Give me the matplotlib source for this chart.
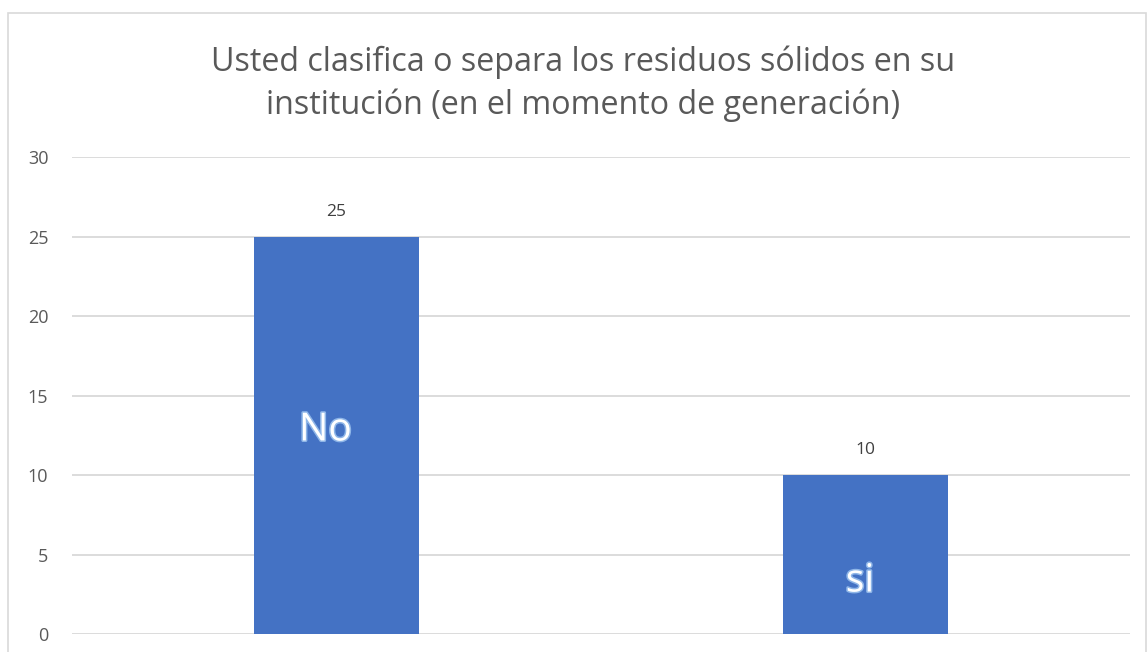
import matplotlib.pyplot as plt
import matplotlib.patheffects as pe
from matplotlib.patches import Rectangle

# data
categories = ["No", "si"]
values = [25, 10]
title_lines = ["Usted clasifica o separa los residuos sólidos en su",
               "institución (en el momento de generación)"]

plt.rcParams['font.family'] = ['Open Sans', 'DejaVu Sans']

fig = plt.figure(figsize=(11.47, 6.52), dpi=100)
ax = fig.add_axes([72 / 1147, 1 - 634 / 652, (1130 - 72) / 1147, (634 - 157) / 652])

x = list(range(len(categories)))
bars = ax.bar(x, values, width=0.312, color="#4472C4", zorder=3)

ax.set_xlim(-0.5, len(categories) - 0.5)
ax.set_ylim(0, 30)
ax.set_yticks(range(0, 31, 5))
ax.set_xticks([])
ax.grid(axis="y", color="#d9d9d9", linewidth=1.3, zorder=0)
for s in ax.spines.values():
    s.set_visible(False)
ax.tick_params(axis="y", length=0, pad=17, labelsize=13, labelcolor="#595959")

# value labels above bars
for xi, v in zip(x, values):
    ax.annotate(str(v), (xi, v), xytext=(0, 12), textcoords="offset points",
                ha="center", va="bottom", fontsize=12.5, color="#404040")

# category labels inside the bars, white with a light glow
glow = [pe.withStroke(linewidth=2.2, foreground="#8fb6e8")]
inner_y = [12.8, 3.3]
inner_dx = [-8, -4]
for xi, lab, yy, dx in zip(x, categories, inner_y, inner_dx):
    ax.annotate(lab, (xi, yy), xytext=(dx, 0), textcoords="offset points",
                ha="center", va="center", fontsize=28, color="white",
                path_effects=glow, zorder=4)

fig.text(0.508, 1 - 84 / 652, "\n".join(title_lines), ha="center", va="center",
         fontsize=23.2, color="#595959", linespacing=1.38)

# chart frame
fig.patches.append(Rectangle((8 / 1147, -0.1), (1146 - 8) / 1147, (639 / 652) + 0.1,
                             transform=fig.transFigure, fill=False,
                             edgecolor="#d9d9d9", linewidth=1.2, clip_on=False))

fig.savefig("out.png", dpi=100, facecolor="white")
